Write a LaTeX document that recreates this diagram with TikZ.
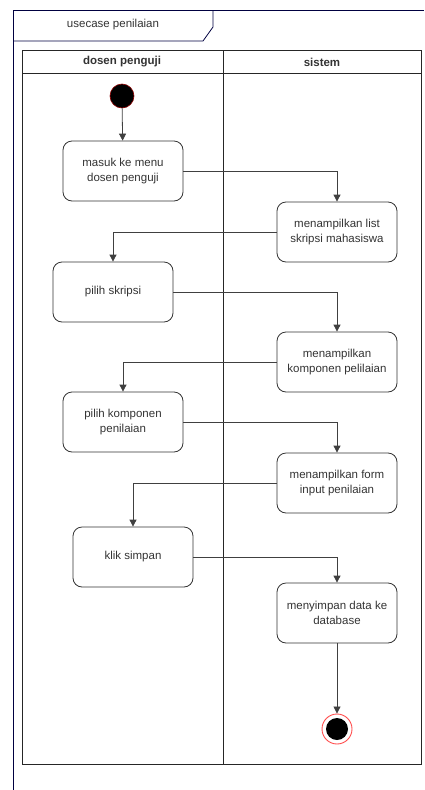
\documentclass[tikz,border=0pt]{standalone}
\usepackage{fontspec}
\setmainfont{Liberation Sans}
\usetikzlibrary{arrows.meta}
\colorlet{frameblue}{blue!25!black}
\colorlet{textgray}{black!80}
\tikzset{
  activity/.style = {
    draw=black!80, rounded corners=9pt, line width=0.8pt,
    minimum width=120pt, minimum height=60pt, align=center,
    text=textgray, font=\fontsize{11.5}{14.3}\selectfont
  },
  flow/.style = {draw=black!75, line width=0.8pt, -{Triangle[length=7pt,width=7pt]}},
  lane/.style = {draw=black!85, line width=0.9pt},
  frame/.style = {draw=frameblue, line width=0.8pt}
}

\begin{document}
\begin{tikzpicture}[x=1pt,y=-1pt]
  \useasboundingbox (0,0) rectangle (424,790);
  % frame with title tab
  \draw[frame] (13,790) -- (13,10) -- (424,10);
  \draw[frame] (13,41) -- (203,41) -- (213,27) -- (213,10);
  \node[text=textgray,font=\fontsize{11.5}{14}\selectfont] (title) at (113,25) {usecase penilaian};
  % swimlanes
  \draw[lane] (22,50) rectangle (421,764);
  \draw[lane] (22,73) -- (421,73);
  \draw[lane] (223,50) -- (223,764);
  \node[font=\bfseries\fontsize{11.5}{14}\selectfont,text=textgray] (dosen) at (122,62) {dosen penguji};
  \node[font=\bfseries\fontsize{11.5}{14}\selectfont,text=textgray] (sistem) at (322,62) {sistem};
  % start
  \node[circle,fill=black,draw=red!55!black,line width=0.6pt,minimum size=24pt,inner sep=0pt] (start) at (122,96) {};
  % activities
  \node[activity] (menu)     at (123,171) {masuk ke menu\\dosen penguji};
  \node[activity] (list)     at (337,232) {menampilkan list\\skripsi mahasiswa};
  \node[activity] (skripsi)  at (113,292) {pilih skripsi};
  \node[activity] (komponen) at (337,362) {menampilkan\\komponen pelilaian};
  \node[activity] (pilihkom) at (123,422) {pilih komponen\\penilaian};
  \node[activity] (form)     at (337,483) {menampilkan form\\input penilaian};
  \node[activity] (simpan)   at (133,557) {klik simpan};
  \node[activity] (database) at (337,613) {menyimpan data ke\\database};
  % end
  \node[circle,draw=red!70,line width=0.9pt,minimum size=30pt,inner sep=0pt] (stop) at (337,729) {};
  \fill[black] (stop.center) circle (11pt);
  % arrows
  \draw[flow] (start) -- (menu);
  \draw[flow] (menu.east) -| (list.north);
  \draw[flow] (list.west) -| (skripsi.north);
  \draw[flow] (skripsi.east) -| (komponen.north);
  \draw[flow] (komponen.west) -| (pilihkom.north);
  \draw[flow] (pilihkom.east) -| (form.north);
  \draw[flow] (form.west) -| (simpan.north);
  \draw[flow] (simpan.east) -| (database.north);
  \draw[flow] (database) -- (stop);
\end{tikzpicture}
\end{document}
